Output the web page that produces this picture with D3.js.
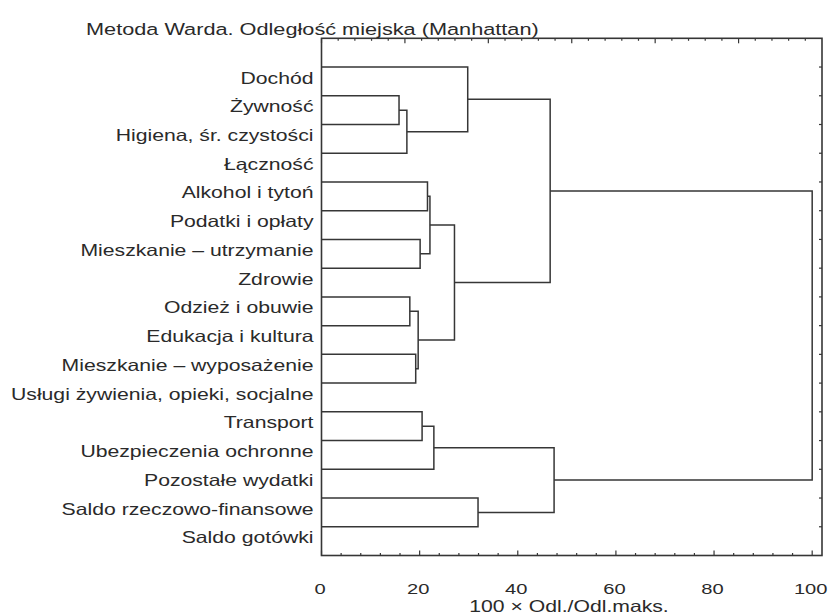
<!DOCTYPE html>
<html lang="pl">
<head>
<meta charset="UTF-8">
<title>Metoda Warda</title>
<script src="https://d3js.org/d3.v7.min.js"></script>
<style>
    body { margin: 0; background: #fff; }
    text { font-family: "Liberation Sans", Arial, sans-serif; fill: #2a2a2a; }
</style>
</head>
<body>
<script>
    var labels = [
        "Dochód", "Żywność", "Higiena, śr. czystości", "Łączność",
        "Alkohol i tytoń", "Podatki i opłaty", "Mieszkanie – utrzymanie", "Zdrowie",
        "Odzież i obuwie", "Edukacja i kultura", "Mieszkanie – wyposażenie",
        "Usługi żywienia, opieki, socjalne", "Transport", "Ubezpieczenia ochronne",
        "Pozostałe wydatki", "Saldo rzeczowo-finansowe", "Saldo gotówki"
    ];
    // [left, right, distance]; ids >= labels.length point at earlier merges
    var linkage = [
        [1, 2, 15.8],    // 17
        [17, 3, 17.4],   // 18
        [8, 9, 18.0],    // 19
        [10, 11, 19.2],  // 20
        [19, 20, 19.7],  // 21
        [6, 7, 20.1],    // 22
        [12, 13, 20.5],  // 23
        [4, 5, 21.6],    // 24
        [24, 22, 22.1],  // 25
        [23, 14, 22.9],  // 26
        [25, 21, 27.1],  // 27
        [0, 18, 29.8],   // 28
        [15, 16, 31.9],  // 29
        [28, 27, 46.6],  // 30
        [26, 29, 47.4],  // 31
        [30, 31, 100]    // 32
    ];
    var xTickValues = [0, 20, 40, 60, 80, 100];
    var title = "Metoda Warda. Odległość miejska (Manhattan)";
    var xTitle = "100 × Odl./Odl.maks.";

    var svgWidth = 828, svgHeight = 615;
    var plotLeft = 321.5, plotRight = 822, plotTop = 38.3, plotBottom = 555.5;
    var stretch = 1.3;   // the scanned lettering is wide
    var fontSize = 16.3;
    var ink = "#363636";

    var x = d3.scaleLinear().domain([0, 102]).range([plotLeft, plotRight]);
    var y = d3.scaleLinear().domain([0, labels.length + 1]).range([plotTop, plotBottom]);
    var xTop = d3.scaleLinear().domain([0, 6]).range([plotLeft, plotRight]);

    // node positions: leaves first, then every merge
    var nodes = labels.map(function (d, i) { return {h: 0, pos: i + 1}; });
    linkage.forEach(function (m) {
        nodes.push({h: m[2], pos: (nodes[m[0]].pos + nodes[m[1]].pos) / 2});
    });

    var svg = d3.select("body").append("svg")
        .attr("width", svgWidth)
        .attr("height", svgHeight);

    function wideText(sel, tx, ty) {
        return sel.attr("transform", "translate(" + tx + "," + ty + ") scale(" + stretch + ",1)");
    }

    // frame
    svg.append("rect")
        .attr("x", plotLeft).attr("y", plotTop)
        .attr("width", plotRight - plotLeft).attr("height", plotBottom - plotTop)
        .style("fill", "none").style("stroke", ink).style("stroke-width", 1.6);

    // bottom ticks, pointing in
    var bottomTicks = d3.range(0, 101, 4);
    svg.selectAll("line.btick")
        .data(bottomTicks)
        .enter().append("line")
        .attr("class", "btick")
        .attr("x1", function (d) { return x(d); })
        .attr("x2", function (d) { return x(d); })
        .attr("y1", plotBottom)
        .attr("y2", function (d) { return plotBottom - (d % 20 === 0 ? 5 : 2.5); })
        .style("stroke", ink).style("stroke-width", 1.2);

    // top ticks
    svg.selectAll("line.ttick")
        .data(d3.range(0, 30))
        .enter().append("line")
        .attr("class", "ttick")
        .attr("x1", function (d) { return xTop(d / 5); })
        .attr("x2", function (d) { return xTop(d / 5); })
        .attr("y1", plotTop)
        .attr("y2", function (d) { return plotTop + (d % 5 === 0 ? 5 : 2.5); })
        .style("stroke", ink).style("stroke-width", 1.2);

    // right ticks at the leaves
    svg.selectAll("line.rtick")
        .data(labels)
        .enter().append("line")
        .attr("class", "rtick")
        .attr("x1", plotRight)
        .attr("x2", plotRight - 3)
        .attr("y1", function (d, i) { return y(i + 1); })
        .attr("y2", function (d, i) { return y(i + 1); })
        .style("stroke", ink).style("stroke-width", 1.2);

    // dendrogram elbows
    svg.selectAll("path.link")
        .data(linkage)
        .enter().append("path")
        .attr("class", "link")
        .attr("d", function (m) {
            var a = nodes[m[0]], b = nodes[m[1]];
            return "M" + x(a.h) + "," + y(a.pos) +
                "H" + x(m[2]) +
                "V" + y(b.pos) +
                "H" + x(b.h);
        })
        .style("fill", "none")
        .style("stroke", ink)
        .style("stroke-width", 1.5);

    // leaf labels (they sit a little below their lines in the original)
    svg.selectAll("text.leaf")
        .data(labels)
        .enter().append("text")
        .attr("class", "leaf")
        .each(function (d, i) { wideText(d3.select(this), 313.5, y(i + 1) + 16.5); })
        .attr("text-anchor", "end")
        .attr("font-size", fontSize)
        .text(function (d) { return d; });

    // x tick labels
    svg.selectAll("text.xlab")
        .data(xTickValues)
        .enter().append("text")
        .attr("class", "xlab")
        .each(function (d) { wideText(d3.select(this), x(d) - 1.5, 594.3); })
        .attr("text-anchor", "middle")
        .attr("font-size", 15.5)
        .text(function (d) { return d; });

    wideText(svg.append("text"), 569, 611.5)
        .attr("text-anchor", "middle")
        .attr("font-size", fontSize)
        .text(xTitle);

    wideText(svg.append("text"), 86, 35)
        .attr("font-size", 16.7)
        .text(title);
</script>
</body>
</html>
